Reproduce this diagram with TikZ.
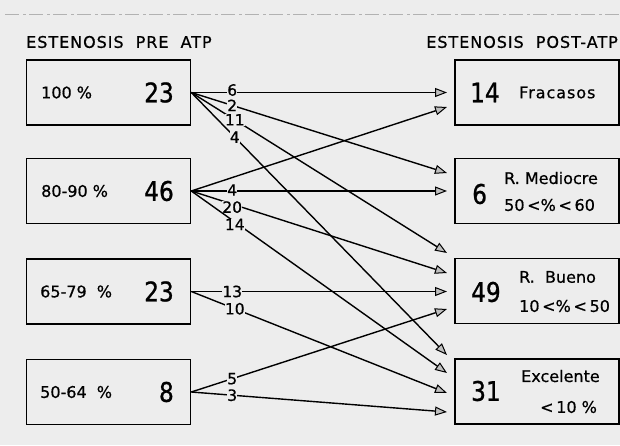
\documentclass[tikz,border=0pt]{standalone}
\usepackage{fontspec}
\setmainfont[FakeBold=0.7]{DejaVu Sans}
\newfontfamily\numfont[FakeStretch=0.86,FakeBold=0.9]{DejaVu Sans}
\usetikzlibrary{arrows.meta}
\definecolor{paper}{gray}{0.93}
\newcommand{\txt}{\fontsize{16}{16}\selectfont}
\newcommand{\lbltxt}{\fontsize{15.5}{15.5}\selectfont}
\newcommand{\wtxt}{\fontsize{16}{16}\selectfont\addfontfeatures{LetterSpace=6}}
\newcommand{\bignum}{\numfont\fontsize{27}{27}\selectfont}
\begin{document}
\begin{tikzpicture}[x=1pt,y=-1pt,
  box/.style={draw, line width=1.6pt, fill=paper, minimum width=164pt, minimum height=65pt, inner sep=0pt},
  flow/.style={line width=1.4pt, -{Triangle[length=12pt,width=9pt,fill=gray!50,line width=1pt]}},
  lbl/.style={fill=paper, inner sep=0.2pt, font=\lbltxt},
  small/.style={inner sep=0pt, font=\txt},
  num/.style={inner sep=0pt, font=\bignum},
  title/.style={inner sep=0pt, font=\wtxt, anchor=west}]
% sheet
\fill[paper] (0,0) rectangle (620,445);
\useasboundingbox (0,0) rectangle (620,445);
\draw[gray!60, line width=0.6pt, dash pattern=on 14pt off 4pt on 3pt off 3pt] (5,14) -- (620,14);

% column headings
\node[title] (hpre) at (26,42) {ESTENOSIS~ PRE~ ATP};
\node[title, anchor=east] (hpost) at (618,42) {ESTENOSIS~ POST-ATP};

% stenosis before angioplasty
\node[box] (L1) at (108.5,92.5) {};
\node[box] (L2) at (108.5,191) {};
\node[box] (L3) at (108.5,291.5) {};
\node[box] (L4) at (108.5,392) {};
\node[small, anchor=west] (L1t) at (41,92.5) {100 \%};
\node[small, anchor=west] (L2t) at (41,191) {80-90 \%};
\node[small, anchor=west] (L3t) at (40,291.5) {65-79~ \%};
\node[small, anchor=west] (L4t) at (40,392) {50-64~ \%};
\node[num, anchor=east] (L1n) at (174,92.5) {23};
\node[num, anchor=east] (L2n) at (174,191) {46};
\node[num, anchor=east] (L3n) at (174,291.5) {23};
\node[num, anchor=east] (L4n) at (174,392) {8};

% stenosis after angioplasty
\node[box] (R1) at (537,92.5) {};
\node[box] (R2) at (537,191) {};
\node[box] (R3) at (537,291) {};
\node[box] (R4) at (537,391.5) {};
\node[num, anchor=west] (R1n) at (470,92.5) {14};
\node[num, anchor=west] (R2n) at (472,194) {6};
\node[num, anchor=west] (R3n) at (471,292) {49};
\node[num, anchor=west] (R4n) at (471,391) {31};
\node[small, anchor=west, font=\wtxt] (R1t) at (519,92.5) {Fracasos};
\node[small, anchor=west] (R2t) at (504,178) {R. Mediocre};
\node[small, anchor=west] (R2r) at (504,205) {50\,<\%\,<\,60};
\node[small, anchor=west] (R3t) at (519,277) {R.~ Bueno};
\node[small, anchor=west] (R3r) at (519,306) {10\,<\%\,<\,50};
\node[small, anchor=west] (R4t) at (521,376) {Excelente};
\node[small, anchor=west] (R4r) at (540,407) {<\,10 \%};

% arrow tips in front of the result boxes
\coordinate (a1) at (447,92.5);
\coordinate (a2) at (447,107);
\coordinate (b1) at (447,173);
\coordinate (b2) at (447,191);
\coordinate (c1) at (447,253);
\coordinate (c2) at (447,273);
\coordinate (c3) at (447,291.5);
\coordinate (c4) at (447,309);
\coordinate (d1) at (447,355);
\coordinate (d2) at (447,373);
\coordinate (d3) at (447,393);
\coordinate (d4) at (447,412);

% patient flows
\draw[flow] (L1.east) -- node[lbl, pos=0.16, yshift=2.5pt] (f11) {6} (a1);
\draw[flow] (L1.east) -- node[lbl, pos=0.16] (f12) {2} (b1);
\draw[flow] (L1.east) -- node[lbl, pos=0.17] (f13) {11} (c1);
\draw[flow] (L1.east) -- node[lbl, pos=0.17] (f14) {4} (d1);
\draw[flow] (L2.east) -- (a2);
\draw[flow] (L2.east) -- node[lbl, pos=0.16, yshift=1pt] (f22) {4} (b2);
\draw[flow] (L2.east) -- node[lbl, pos=0.16, yshift=-3pt] (f23) {20} (c2);
\draw[flow] (L2.east) -- node[lbl, pos=0.17, yshift=-2.5pt] (f24) {14} (d2);
\draw[flow] (L3.east) -- node[lbl, pos=0.16] (f33) {13} (c3);
\draw[flow] (L3.east) -- node[lbl, pos=0.17] (f34) {10} (d3);
\draw[flow] (L4.east) -- node[lbl, pos=0.16] (f43) {5} (c4);
\draw[flow] (L4.east) -- node[lbl, pos=0.16] (f44) {3} (d4);
\end{tikzpicture}
\end{document}
